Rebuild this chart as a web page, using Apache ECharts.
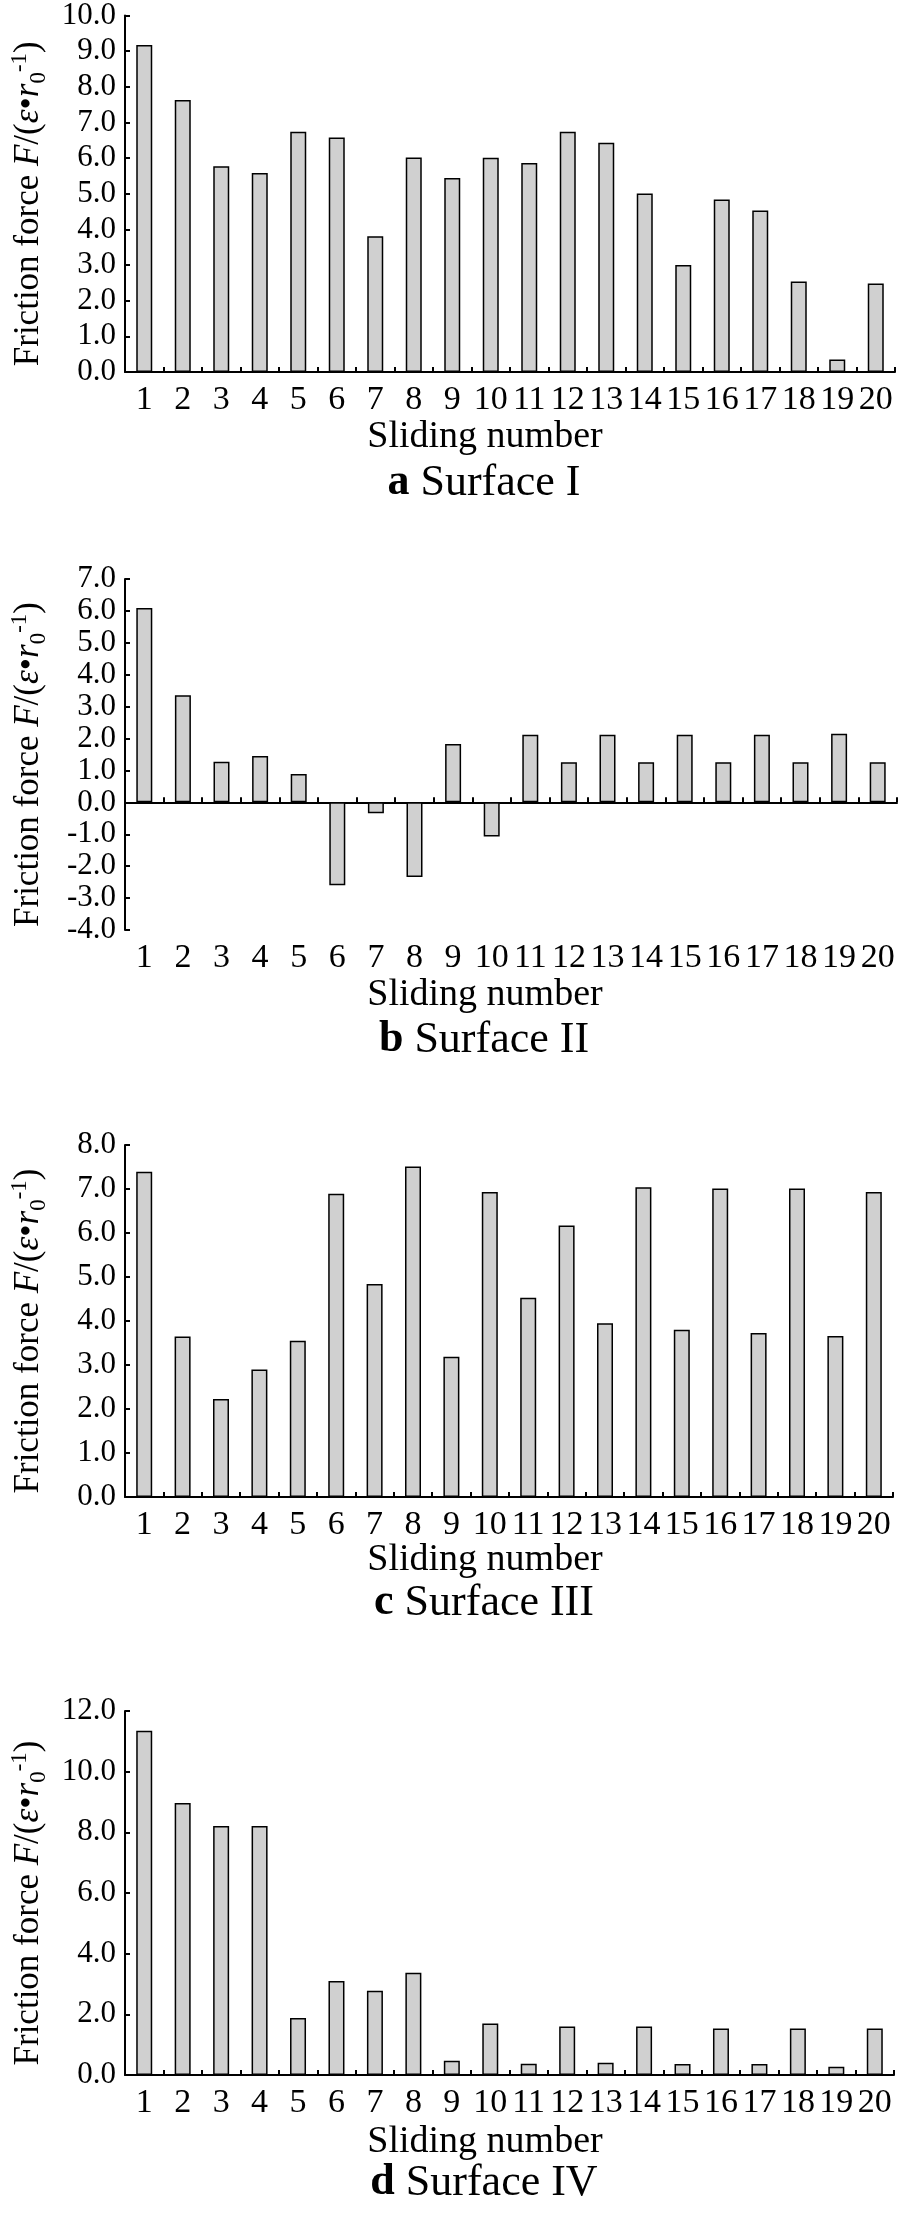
<!DOCTYPE html>
<html>
<head>
<meta charset="utf-8">
<script src="https://cdn.jsdelivr.net/npm/echarts@6/dist/echarts.min.js"></script>
<style>
  html, body { margin: 0; padding: 0; background: #fff; }
  #chart { width: 898px; height: 2232px; }
</style>
</head>
<body>
<div id="chart"></div>
<script>
// sliding numbers
const categories = ['1', '2', '3', '4', '5', '6', '7', '8', '9', '10',
  '11', '12', '13', '14', '15', '16', '17', '18', '19', '20']

// friction force
const surfaceI = [9.17, 7.63, 5.77, 5.58, 6.74, 6.58, 3.81, 6.02, 5.44, 6.01,
  5.86, 6.74, 6.43, 5.01, 3.00, 4.84, 4.53, 2.54, 0.35, 2.48]
const surfaceII = [6.09, 3.36, 1.27, 1.45, 0.89, -2.60, -0.34, -2.34, 1.83, -1.07,
  2.12, 1.26, 2.12, 1.26, 2.12, 1.26, 2.12, 1.26, 2.15, 1.26]
const surfaceIII = [7.39, 3.65, 2.23, 2.90, 3.55, 6.89, 4.84, 7.51, 3.19, 6.93,
  4.53, 6.17, 3.95, 7.04, 3.80, 7.01, 3.73, 7.01, 3.66, 6.93]
const surfaceIV = [11.35, 8.97, 8.21, 8.21, 1.88, 3.10, 2.78, 3.37, 0.47, 1.70,
  0.37, 1.60, 0.40, 1.60, 0.36, 1.53, 0.36, 1.53, 0.27, 1.53]

// y axis ranges
const yRanges = [
  { min: 0, max: 10, interval: 1 },
  { min: -4, max: 7, interval: 1 },
  { min: 0, max: 8, interval: 1 },
  { min: 0, max: 12, interval: 2 }
]
const captions = [['a', 'Surface I'], ['b', 'Surface II'], ['c', 'Surface III'], ['d', 'Surface IV']]

const FONT = "'Liberation Serif', 'Times New Roman', serif"

// grid boxes [left, top, width, height]
const boxes = [
  [118, 15, 777, 357],
  [121, 579, 776, 351],
  [117, 1145, 776, 352],
  [117, 1711, 777, 364]
]
const xNameY = [437, 995, 1560, 2142]
const captionY = [483, 1040, 1603, 2183]

const myChart = echarts.init(document.getElementById('chart'))

const axisLineStyle = { color: '#000', width: 2 }

const grids = boxes.map(b => ({ left: b[0], top: b[1], width: b[2], height: b[3] }))

const yAxes = yRanges.map((r, i) => ({
  gridIndex: i,
  type: 'value',
  min: r.min,
  max: r.max,
  interval: r.interval,
  name: '{t|Friction force }{i|F}{t|/(}{i|ε}{t|•}{i|r}{sub|0}{sup|-1}{t|)}',
  nameLocation: 'middle',
  nameRotate: 90,
  nameGap: 75,
  nameTextStyle: {
    fontFamily: FONT,
    fontSize: 35,
    color: '#000',
    padding: [0, 20, 0, 0],
    rich: {
      t: { fontFamily: FONT, fontSize: 35, color: '#000', lineHeight: 42 },
      i: { fontFamily: FONT, fontSize: 35, fontStyle: 'italic', color: '#000', lineHeight: 42 },
      sub: { fontFamily: FONT, fontSize: 23, color: '#000', lineHeight: 42, verticalAlign: 'bottom' },
      sup: { fontFamily: FONT, fontSize: 23, color: '#000', lineHeight: 42, verticalAlign: 'top' }
    }
  },
  axisLine: { show: true, onZero: false, lineStyle: axisLineStyle },
  axisTick: { show: true, inside: true, length: 5, lineStyle: axisLineStyle },
  splitLine: { show: false },
  axisLabel: {
    fontFamily: FONT,
    fontSize: 31,
    color: '#000',
    margin: 9,
    formatter: v => v.toFixed(1)
  }
}))

function catAxis (gridIndex, opts) {
  return Object.assign({
    gridIndex: gridIndex,
    type: 'category',
    data: categories,
    position: 'bottom',
    axisLine: { show: true, onZero: false, lineStyle: axisLineStyle },
    axisTick: { show: true, inside: true, length: 5, lineStyle: axisLineStyle },
    axisLabel: { fontFamily: FONT, fontSize: 34, color: '#000', margin: 11, interval: 0 }
  }, opts)
}

const xAxes = [
  catAxis(0),
  // surface II: line through zero, labels kept at the bottom
  catAxis(1, {
    axisLine: { show: true, onZero: true, lineStyle: axisLineStyle },
    axisLabel: { show: false }
  }),
  catAxis(1, {
    axisLine: { show: false, onZero: false },
    axisTick: { show: false }
  }),
  catAxis(2),
  catAxis(3)
]

const allData = [surfaceI, surfaceII, surfaceIII, surfaceIV]
const xIdx = [0, 1, 3, 4]

const series = allData.map((d, i) => ({
  type: 'bar',
  xAxisIndex: xIdx[i],
  yAxisIndex: i,
  data: d,
  barWidth: 16,
  itemStyle: { color: '#d0d0d0', borderColor: '#000', borderWidth: 1.5 },
  silent: true
}))

const graphics = []
for (let i = 0; i < 4; i++) {
  graphics.push({
    type: 'text',
    x: 485,
    y: xNameY[i],
    style: {
      text: 'Sliding number',
      fontFamily: FONT,
      fontSize: 38,
      fill: '#000',
      align: 'center',
      verticalAlign: 'middle'
    }
  })
  graphics.push({
    type: 'text',
    x: 484,
    y: captionY[i],
    style: {
      text: '{b|' + captions[i][0] + '} {n|' + captions[i][1] + '}',
      fontFamily: FONT,
      fontSize: 44,
      fill: '#000',
      align: 'center',
      verticalAlign: 'middle',
      rich: {
        b: { fontFamily: FONT, fontSize: 44, fontWeight: 'bold', fill: '#000' },
        n: { fontFamily: FONT, fontSize: 44, fill: '#000' }
      }
    }
  })
}

myChart.setOption({
  animation: false,
  backgroundColor: '#fff',
  grid: grids,
  xAxis: xAxes,
  yAxis: yAxes,
  series: series,
  graphic: graphics
})
</script>
</body>
</html>
